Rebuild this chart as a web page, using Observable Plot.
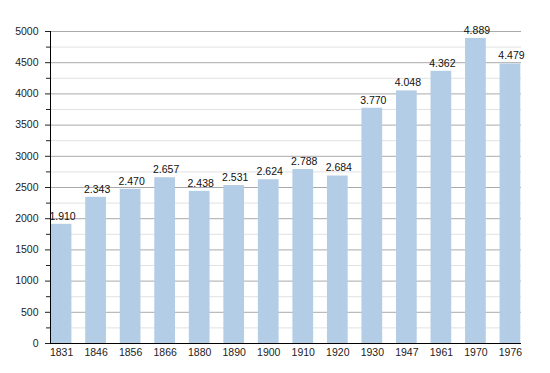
<!DOCTYPE html>
<html><head><meta charset="utf-8">
<script src="https://cdn.jsdelivr.net/npm/d3@7"></script>
<script src="https://cdn.jsdelivr.net/npm/@observablehq/plot@0.6"></script>
<style>body{margin:0;background:#fff;} svg{display:block;}</style>
</head><body><div id="chart"></div>
<script>
const years = ["1831","1846","1856","1866","1880","1890","1900","1910","1920","1930","1947","1961","1970","1976"];
const population = [1910,2343,2470,2657,2438,2531,2624,2788,2684,3770,4048,4362,4889,4479];
const majorTicks = [0,500,1000,1500,2000,2500,3000,3500,4000,4500,5000];
const minorTicks = [250,750,1250,1750,2250,2750,3250,3750,4250,4750];

const data = years.map((y,i)=>({year:y, value:population[i]}));
const fmt = d3.formatLocale({thousands:".", grouping:[3], decimal:","}).format(",");

const chart = Plot.plot({
  width:550, height:373,
  marginTop:31, marginBottom:30, marginLeft:50, marginRight:29,
  style:{fontFamily:"Liberation Sans, Arial, sans-serif", fontSize:"10.5px", color:"#222", background:"#fff"},
  x:{domain:years, padding:0.4, paddingOuter:0.02, round:false, label:null},
  y:{domain:[0,5000], label:null},
  marks:[
    Plot.ruleY(minorTicks,{stroke:"#e2e2e2", strokeWidth:1}),
    Plot.ruleY(majorTicks,{stroke:"#aaa", strokeWidth:1}),
    Plot.barY(data,{x:"year", y:"value", fill:"#b3cde6", insetLeft:0, insetRight:0}),
    Plot.text(data,{x:"year", y:"value", text:d=>fmt(d.value), dy:-8, dx:1, fill:"#111", fontSize:10.5}),
    Plot.axisY({ticks:majorTicks, tickSize:5, tickPadding:7, tickFormat:d=>String(d), label:null}),
    Plot.axisY({ticks:minorTicks, tickSize:4, tickFormat:()=>"", label:null}),
    Plot.ruleY([0],{stroke:"#000", strokeWidth:1.2}),
    Plot.axisX({tickSize:0, tickPadding:5, label:null})
  ]
});
document.getElementById("chart").appendChild(chart);
// y axis line
d3.select(chart).append("line").attr("x1",50.5).attr("x2",50.5).attr("y1",31).attr("y2",343).attr("stroke","#000");
</script></body></html>
